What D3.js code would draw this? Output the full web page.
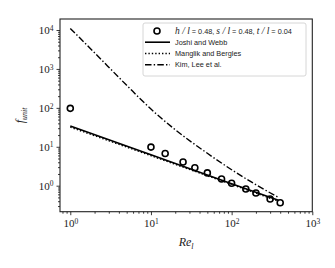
<!DOCTYPE html>
<html>
<head>
<meta charset="utf-8">
<script src="https://cdn.jsdelivr.net/npm/d3@7"></script>
<style>
  body { margin: 0; background: #fff; }
  .tick text { font-family: "Liberation Serif", serif; }
</style>
</head>
<body>
<script>
// measured points (h/l = 0.48, s/l = 0.48, t/l = 0.04)
var reData = [1, 10, 15, 25, 35, 50, 75, 100, 150, 200, 300, 400];
var fData = [97, 9.8, 6.7, 4.05, 2.9, 2.13, 1.49, 1.16, 0.82, 0.65, 0.455, 0.365];

// correlations
var reJoshi = [1, 10, 100, 380];
var fJoshi = [34, 6.2, 1.13, 0.42];

var reManglik = [1, 10, 100, 380];
var fManglik = [32, 5.9, 1.08, 0.4];

var reKim = [1, 2, 5, 10, 20, 50, 100, 200, 380];
var fKim = [11000, 2600, 380, 93, 27.4, 6.8, 2.57, 1.06, 0.5];

var xTicks = [1, 10, 100, 1000];
var yTicks = [1, 10, 100, 1000, 10000];
var legendLabels = ["Joshi and Webb", "Manglik and Bergles", "Kim, Lee et al."];

var totalWidth = 335, totalHeight = 268;
var margin = {top: 19, right: 22.7, bottom: 56.3, left: 60};
var width = totalWidth - margin.left - margin.right;
var height = totalHeight - margin.top - margin.bottom;

var svg = d3.select("body").append("svg")
    .attr("width", totalWidth)
    .attr("height", totalHeight);

var g = svg.append("g")
    .attr("transform", "translate(" + margin.left + "," + margin.top + ")");

var xScale = d3.scaleLog()
    .domain([Math.pow(10, -0.1276), 1000])
    .range([0, width]);

var yScale = d3.scaleLog()
    .domain([Math.pow(10, -0.668), Math.pow(10, 4.283)])
    .range([height, 0]);

// minor tick values per decade
function minors(lo, hi) {
  var out = [];
  for (var e = lo; e < hi; e++) {
    for (var k = 2; k <= 9; k++) out.push(k * Math.pow(10, e));
  }
  return out;
}
var xMinor = minors(-1, 3).filter(function(v) { return v >= xScale.domain()[0] && v <= 1000; });
var yMinor = minors(-1, 5).filter(function(v) { return v >= yScale.domain()[0] && v <= yScale.domain()[1]; });

function supLabel(sel) {
  sel.selectAll(".tick text").each(function(d) {
    var t = d3.select(this);
    var e = Math.round(Math.log10(d));
    t.text(null);
    t.append("tspan").text("10");
    t.append("tspan").attr("dy", "-0.45em").attr("font-size", "7.5px").text(e);
  });
}

// x axis
var xAxis = g.append("g")
    .attr("transform", "translate(0," + height + ")")
    .call(d3.axisBottom(xScale).tickValues(xTicks).tickSize(3.5).tickPadding(4));
xAxis.call(supLabel);
xAxis.selectAll(".tick text").attr("font-size", "11px").attr("fill", "#222");
g.append("g")
    .attr("transform", "translate(0," + height + ")")
    .call(d3.axisBottom(xScale).tickValues(xMinor).tickSize(2).tickFormat(""))
    .select(".domain").remove();

// y axis
var yAxis = g.append("g")
    .call(d3.axisLeft(yScale).tickValues(yTicks).tickSize(3.5).tickPadding(3));
yAxis.call(supLabel);
yAxis.selectAll(".tick text").attr("font-size", "11px").attr("fill", "#222");
g.append("g")
    .call(d3.axisLeft(yScale).tickValues(yMinor).tickSize(2).tickFormat(""))
    .select(".domain").remove();

g.selectAll(".domain").remove();
g.selectAll(".tick line").attr("stroke", "#222").attr("stroke-width", 0.9);

// frame
g.append("rect")
    .attr("width", width)
    .attr("height", height)
    .attr("fill", "none")
    .attr("stroke", "#222")
    .attr("stroke-width", 1.1);

// axis labels
svg.append("text")
    .attr("x", margin.left + width / 2)
    .attr("y", 246)
    .attr("text-anchor", "middle")
    .attr("font-family", "Liberation Serif, serif")
    .attr("font-style", "italic")
    .attr("font-size", "12px")
    .attr("fill", "#222")
    .call(function(t) {
      t.append("tspan").text("Re");
      t.append("tspan").attr("dy", "2.5").attr("font-size", "8px").text("l");
    });

svg.append("text")
    .attr("transform", "translate(24," + (margin.top + height / 2) + ") rotate(-90)")
    .attr("text-anchor", "middle")
    .attr("font-family", "Liberation Serif, serif")
    .attr("font-style", "italic")
    .attr("font-size", "12px")
    .attr("fill", "#222")
    .call(function(t) {
      t.append("tspan").text("f");
      t.append("tspan").attr("dy", "2.5").attr("font-size", "8px").text("unit");
    });

// lines
var line = d3.line()
    .x(function(d) { return xScale(d[0]); })
    .y(function(d) { return yScale(d[1]); });

function pairs(xs, ys) { return xs.map(function(x, i) { return [x, ys[i]]; }); }

var plot = g.append("g");

plot.append("path")
    .datum(pairs(reKim, fKim))
    .attr("d", line.curve(d3.curveMonotoneX))
    .attr("fill", "none")
    .attr("stroke", "#000")
    .attr("stroke-width", 1.4)
    .attr("stroke-dasharray", "6.5,2.2,1.4,2.2");

plot.append("path")
    .datum(pairs(reManglik, fManglik))
    .attr("d", line.curve(d3.curveLinear))
    .attr("fill", "none")
    .attr("stroke", "#000")
    .attr("stroke-width", 1.4)
    .attr("stroke-dasharray", "1.4,2");

plot.append("path")
    .datum(pairs(reJoshi, fJoshi))
    .attr("d", line.curve(d3.curveLinear))
    .attr("fill", "none")
    .attr("stroke", "#000")
    .attr("stroke-width", 1.6);

plot.selectAll("circle.pt")
    .data(pairs(reData, fData))
    .enter()
    .append("circle")
    .attr("class", "pt")
    .attr("cx", function(d) { return xScale(d[0]); })
    .attr("cy", function(d) { return yScale(d[1]); })
    .attr("r", 3)
    .attr("fill", "none")
    .attr("stroke", "#000")
    .attr("stroke-width", 1.6);

// legend
var lg = svg.append("g").attr("transform", "translate(143,23)");
lg.append("rect")
    .attr("width", 163)
    .attr("height", 53)
    .attr("rx", 2)
    .attr("fill", "#fff")
    .attr("fill-opacity", 0.85)
    .attr("stroke", "#ccc")
    .attr("stroke-width", 0.8);

var rowY = [8, 19.2, 30.5, 41.8];

lg.append("circle")
    .attr("cx", 14)
    .attr("cy", rowY[0])
    .attr("r", 3)
    .attr("fill", "none")
    .attr("stroke", "#000")
    .attr("stroke-width", 1.6);

var first = lg.append("text")
    .attr("x", 32)
    .attr("y", rowY[0] + 2.6)
    .attr("font-family", "Liberation Sans, Arial, sans-serif")
    .attr("font-size", "7.3px")
    .attr("fill", "#222");
[["h/l", " = 0.48, "], ["s/l", " = 0.48, "], ["t/l", " = 0.04"]].forEach(function(p) {
  first.append("tspan").attr("font-family", "Liberation Serif, serif").attr("font-style", "italic").attr("font-size", "9.5px").text(p[0].split("/").join(" / "));
  first.append("tspan").text(p[1]);
});

var dashes = [null, "1.4,2", "6.5,2.2,1.4,2.2"];
legendLabels.forEach(function(lab, i) {
  var y = rowY[i + 1];
  lg.append("line")
      .attr("x1", 2).attr("x2", 27)
      .attr("y1", y).attr("y2", y)
      .attr("stroke", "#000")
      .attr("stroke-width", i === 0 ? 1.6 : 1.4)
      .attr("stroke-dasharray", dashes[i]);
  lg.append("text")
      .attr("x", 32)
      .attr("y", y + 2.6)
      .attr("font-family", "Liberation Sans, Arial, sans-serif")
      .attr("font-size", "7.3px")
      .attr("fill", "#222")
      .text(lab);
});
</script>
</body>
</html>
